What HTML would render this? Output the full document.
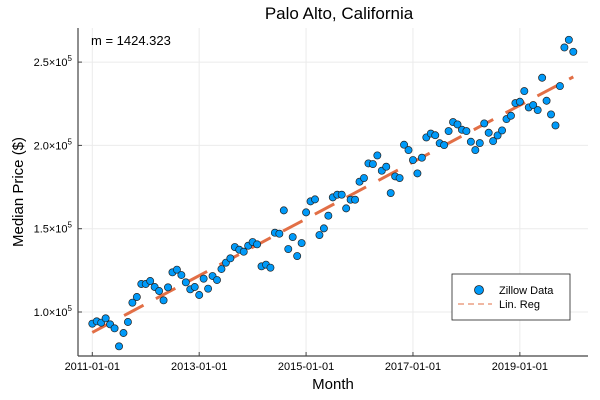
<!DOCTYPE html>
<html><head><meta charset="utf-8"><style>
body{margin:0;background:#fff}
svg{display:block;font-family:"Liberation Sans",sans-serif}
</style></head><body>
<svg id="chart" width="600" height="400" xmlns="http://www.w3.org/2000/svg">
<text x="339" y="19" text-anchor="middle" font-size="17" fill="#000">Palo Alto, California</text>
<g id="grid"></g>
<g id="ticks"></g>
<line x1="78" y1="28" x2="78" y2="356" stroke="#444" stroke-width="1.2"/>
<line x1="78" y1="356" x2="588" y2="356" stroke="#444" stroke-width="1.2"/>
<g id="reg"></g>
<g id="pts"></g>
<text x="91" y="45" font-size="13" fill="#000">m = 1424.323</text>
<text x="333" y="389" text-anchor="middle" font-size="15">Month</text>
<text transform="translate(23,192) rotate(-90)" text-anchor="middle" font-size="15">Median Price ($)</text>
<g>
<rect x="452" y="274" width="118" height="46" fill="#fff" stroke="#222" stroke-width="0.8"/>
<circle cx="479" cy="290" r="4.5" fill="#009af9" stroke="#222" stroke-width="0.8"/>
<text x="499" y="294" font-size="11">Zillow Data</text>
<line x1="458" y1="304" x2="492" y2="304" stroke="#e26f46" stroke-width="1" stroke-dasharray="6 4"/>
<text x="499" y="308" font-size="11">Lin. Reg</text>
</g>
</svg>
<script>
const tickLabels = ["2011-01-01","2013-01-01","2015-01-01","2017-01-01","2019-01-01"];
const tickMonths = [0,24,48,72,96];
const yTickValues = [100,150,200,250];
const yTickLabels = ["1.0","1.5","2.0","2.5"];
const prices = [
93.0,94.4,93.6,96.2,92.6,90.2,79.4,87.4,94.0,105.6,109.0,116.8,
116.8,118.6,115.0,112.6,107.0,114.8,123.8,125.4,122.2,117.8,113.6,115.0,
110.2,120.0,114.0,121.6,119.2,125.8,129.6,132.2,139.0,137.4,136.2,139.8,
142.0,140.6,127.4,128.4,126.6,147.6,147.0,161.0,137.8,145.0,133.6,141.4,
159.8,166.4,167.6,146.2,150.2,157.8,168.8,170.4,170.4,162.2,167.4,167.4,
178.2,180.4,189.2,188.8,194.0,184.8,187.2,171.4,181.4,180.4,200.4,197.2,
191.2,183.2,192.6,204.8,207.1,206.1,201.3,200.2,208.6,214.0,212.6,209.4,
208.6,202.2,197.2,201.4,213.2,207.6,202.6,206.0,209.0,215.8,217.8,225.4,
226.2,232.6,222.8,224.2,221.2,240.6,226.8,218.6,212.0,235.6,258.8,263.4,256.2];
const NS="http://www.w3.org/2000/svg";
const X0=92.3, X1=573.3, N=prices.length;
function xs(i){return X0+i*(X1-X0)/(N-1);}
function ys(v){return 312-(v-100)*(83.3/50);}
function mk(t,a,p){const e=document.createElementNS(NS,t);for(const k in a)e.setAttribute(k,a[k]);p.appendChild(e);return e;}
const grid=document.getElementById('grid'),ticks=document.getElementById('ticks');
tickMonths.forEach((m,i)=>{
  const x=xs(m);
  const g=mk('line',{x1:x,y1:28,x2:x,y2:356,stroke:'#ebebeb','stroke-width':1},grid);
  
  
  const tk=mk('line',{x1:x,y1:356,x2:x,y2:352,stroke:'#444'},ticks);
  
  
  const t=mk('text',{x:x,y:370,'text-anchor':'middle','font-size':11},ticks);
  t.textContent=tickLabels[i];
  
  
});
yTickValues.forEach((v,i)=>{
  const y=ys(v);
  const g=mk('line',{x1:78,y1:y,x2:588,y2:y,stroke:'#ebebeb','stroke-width':1},grid);
  
  
  const tk=mk('line',{x1:78,y1:y,x2:82,y2:y,stroke:'#444'},ticks);
  
  
  const t=mk('text',{x:72,y:y+4,'text-anchor':'end','font-size':11},ticks);
  t.innerHTML=yTickLabels[i]+'×10<tspan dy="-5" font-size="8">5</tspan>';
  
  
});
// regression
let sx=0,sy=0,sxx=0,sxy=0;
prices.forEach((v,i)=>{sx+=i;sy+=v;sxx+=i*i;sxy+=i*v;});
const b=(N*sxy-sx*sy)/(N*sxx-sx*sx), a=(sy-b*sx)/N;
const rl=mk('line',{x1:xs(0),y1:ys(a),x2:xs(N-1),y2:ys(a+b*(N-1)),stroke:'#e26f46','stroke-width':3,'stroke-dasharray':'22 14'},document.getElementById('reg'));


const pts=document.getElementById('pts');
prices.forEach((v,i)=>{
  const c=mk('circle',{cx:xs(i),cy:ys(v),r:3.6,fill:'#009af9',stroke:'#222','stroke-width':0.7},pts);
  
  
});
</script>
</body></html>
